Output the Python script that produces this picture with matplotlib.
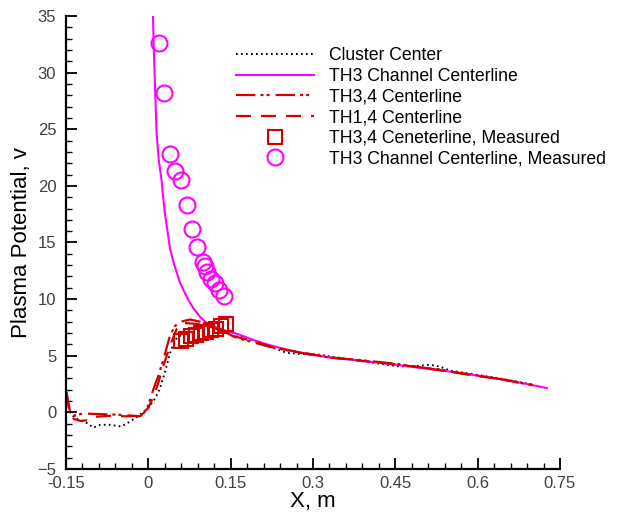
import numpy as np
import matplotlib
matplotlib.use("Agg")
import matplotlib.pyplot as plt
from matplotlib.ticker import MultipleLocator

plt.rcParams['font.family'] = ['Liberation Sans', 'DejaVu Sans']
plt.rcParams['lines.scale_dashes'] = False

# measured points
th3_meas_x = [0.020, 0.0285, 0.039, 0.0485, 0.0595, 0.070, 0.079, 0.088, 0.099,
              0.103, 0.107, 0.115, 0.121, 0.129, 0.138]
th3_meas_y = [32.6, 28.2, 22.8, 21.3, 20.5, 18.3, 16.2, 14.6, 13.3,
              12.9, 12.4, 11.8, 11.4, 10.8, 10.3]

th34_meas_x = [0.060, 0.069, 0.078, 0.087, 0.096, 0.105, 0.114, 0.123, 0.132, 0.141]
th34_meas_y = [6.3, 6.5, 6.7, 6.8, 7.0, 7.1, 7.3, 7.4, 7.6, 7.8]

# simulated lines
th3_x = [0.0085, 0.010, 0.011, 0.013, 0.015, 0.019, 0.024, 0.030, 0.035, 0.039,
         0.045, 0.052, 0.058, 0.064, 0.072, 0.082, 0.094, 0.106, 0.118, 0.130,
         0.145, 0.161, 0.191, 0.22, 0.252, 0.29, 0.33, 0.39, 0.452, 0.50,
         0.549, 0.60, 0.64, 0.69, 0.726]
th3_y = [35.0, 32.0, 30.5, 27.5, 24.7, 22.3, 20.5, 17.6, 16.0, 14.6,
         13.4, 12.3, 11.4, 10.8, 10.0, 9.2, 8.45, 7.9, 7.6, 7.4,
         7.15, 6.95, 6.4, 5.95, 5.55, 5.15, 4.85, 4.55, 4.2, 3.9,
         3.6, 3.25, 2.95, 2.5, 2.15]

cluster_x = [-0.143, -0.134, -0.112, -0.100, -0.088, -0.07, -0.049, -0.033, -0.015, 0.0,
             0.012, 0.021, 0.030, 0.036, 0.042, 0.052, 0.070, 0.088, 0.106, 0.125,
             0.155, 0.19, 0.22, 0.252, 0.28, 0.31, 0.336, 0.38, 0.42, 0.458,
             0.49, 0.513, 0.531, 0.549, 0.60, 0.64, 0.701]
cluster_y = [0.05, -0.5, -0.95, -1.35, -1.1, -1.1, -1.25, -0.8, -0.2, 0.4,
             1.2, 2.1, 3.5, 4.6, 5.6, 6.6, 7.1, 7.4, 7.6, 7.5,
             7.0, 6.35, 5.85, 5.25, 5.15, 5.1, 4.9, 4.6, 4.3, 4.05,
             4.1, 4.2, 4.05, 3.7, 3.3, 3.0, 2.45]

th34_x = [-0.149, -0.143, -0.135, -0.12, -0.09, -0.06, -0.04, -0.015, -0.003, 0.009,
          0.018, 0.027, 0.039, 0.048, 0.058, 0.076, 0.095, 0.118, 0.14, 0.155,
          0.167, 0.19, 0.22, 0.252, 0.29, 0.33, 0.39, 0.45, 0.50, 0.531,
          0.549, 0.60, 0.64, 0.70]
th34_y = [1.8, 0.2, -0.3, -0.1, -0.15, -0.2, -0.25, -0.35, 0.2, 2.0,
          3.2, 4.6, 6.7, 7.6, 8.0, 8.2, 8.0, 7.7, 7.1, 6.7,
          6.5, 6.2, 5.8, 5.5, 5.15, 4.85, 4.6, 4.3, 3.95, 3.8,
          3.6, 3.25, 2.95, 2.4]

th14_x = [-0.149, -0.143, -0.135, -0.124, -0.11, -0.10, -0.07, -0.04, -0.015, 0.0,
          0.012, 0.018, 0.030, 0.042, 0.052, 0.065, 0.09, 0.118, 0.15, 0.19,
          0.22, 0.252, 0.29, 0.33, 0.39, 0.45, 0.50, 0.549, 0.60, 0.64, 0.70]
th14_y = [1.6, -0.2, -0.6, -0.75, -0.7, -0.4, -0.3, -0.35, -0.3, 0.4,
          1.7, 2.6, 4.5, 6.2, 7.4, 7.9, 7.8, 7.5, 6.8, 6.3,
          5.85, 5.5, 5.2, 4.85, 4.55, 4.25, 3.95, 3.6, 3.2, 2.95, 2.4]

xticks = [-0.15, 0, 0.15, 0.3, 0.45, 0.6, 0.75]
xticklabels = ['-0.15', '0', '0.15', '0.3', '0.45', '0.6', '0.75']
yticks = [-5, 0, 5, 10, 15, 20, 25, 30, 35]

red = '#d40000'
mag = '#ff00ff'

fig = plt.figure(figsize=(6.19, 5.12), dpi=100)
ax = fig.add_axes([66 / 619, 43 / 512, 494 / 619, 453 / 512])

ax.plot(cluster_x, cluster_y, color='black', lw=1.4, dashes=(1.2, 2.4),
        label='Cluster Center')
ax.plot(th3_x, th3_y, color=mag, lw=1.5, label='TH3 Channel Centerline')
ax.plot(th34_x, th34_y, color=red, lw=1.6, dashes=(14, 3.6, 2.2, 2.2, 2.2, 4.3),
        label='TH3,4 Centerline')
ax.plot(th14_x, th14_y, color=red, lw=1.6, dashes=(10.8, 7.2),
        label='TH1,4 Centerline')
ax.plot(th34_meas_x, th34_meas_y, ls='none', marker='s', ms=9.5, mfc='none',
        mec=red, mew=1.5, label='TH3,4 Ceneterline, Measured')
ax.plot(th3_meas_x, th3_meas_y, ls='none', marker='o', ms=11.5, mfc='none',
        mec=mag, mew=1.5, label='TH3 Channel Centerline, Measured')

ax.set_xlim(-0.15, 0.75)
ax.set_ylim(-5, 35)
ax.set_xticks(xticks)
ax.set_xticklabels(xticklabels)
ax.set_yticks(yticks)
ax.xaxis.set_minor_locator(MultipleLocator(0.03))
ax.yaxis.set_minor_locator(MultipleLocator(1))

for s in ['top', 'right']:
    ax.spines[s].set_visible(False)
for s in ['left', 'bottom']:
    ax.spines[s].set_linewidth(1.6)

ax.tick_params(which='major', direction='in', length=8, width=1.3,
               labelsize=12, labelcolor='#404040')
ax.tick_params(axis='y', which='major', pad=7)
ax.tick_params(axis='x', which='major', pad=5)
ax.tick_params(which='minor', direction='in', length=4.5, width=1.0)

ax.set_xlabel('X, m', fontsize=16, labelpad=0)
ax.set_ylabel('Plasma Potential, v', fontsize=16, labelpad=4)

ax.legend(loc='upper left', bbox_to_anchor=(236 / 619, 1 - 47 / 512),
          bbox_transform=fig.transFigure, frameon=False, fontsize=12.7,
          handlelength=4.4, handletextpad=0.9, labelspacing=0.21,
          borderpad=0, borderaxespad=0, numpoints=1)

fig.savefig('out.png', dpi=100)
